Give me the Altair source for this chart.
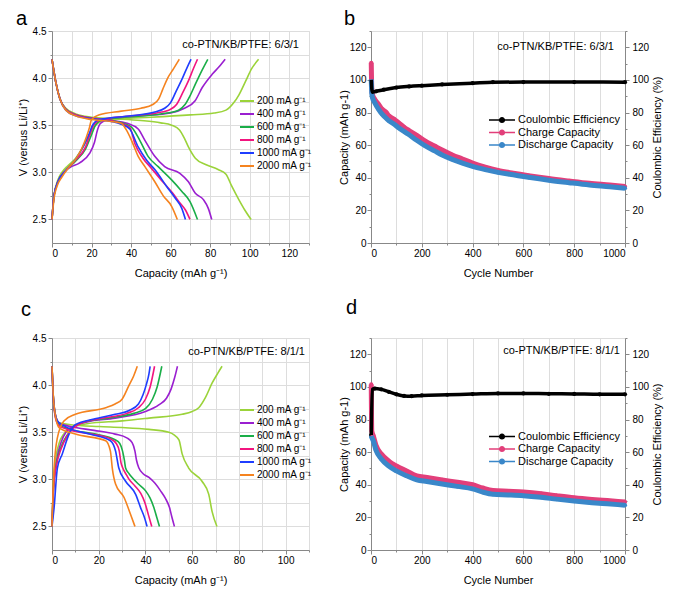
import altair as alt
import pandas as pd

FONT = "Liberation Sans"

# ---------------- rate legend ----------------
RATE_LABELS = ["200 mA g⁻¹", "400 mA g⁻¹", "600 mA g⁻¹", "800 mA g⁻¹", "1000 mA g⁻¹", "2000 mA g⁻¹"]
RATE_COLORS = ["#9BD33A", "#9A1FD0", "#1AAE48", "#F2157F", "#1F3DFF", "#F5831F"]

# ---------------- panel a (6/3/1) : (capacity, voltage) ----------------
a_200_charge = [(0, 2.5), (1, 2.75), (3, 2.92), (5, 3.0), (8, 3.07), (12, 3.15), (16, 3.28), (19, 3.4), (22, 3.5),
                (26, 3.55), (35, 3.57), (50, 3.585), (70, 3.61), (82, 3.63), (88, 3.66), (92, 3.74), (94.5, 3.82),
                (98, 3.97), (101, 4.1), (104.5, 4.2)]
a_200_discharge = [(0, 4.2), (2, 3.95), (4, 3.78), (7, 3.68), (12, 3.62), (20, 3.585), (30, 3.57), (45, 3.55),
                   (55, 3.525), (60.5, 3.5), (64.5, 3.45), (67, 3.36), (69, 3.27), (72.5, 3.15), (78, 3.08),
                   (84, 3.03), (88, 2.98), (91, 2.85), (94.5, 2.71), (97.5, 2.6), (100.7, 2.5)]
a_400_charge = [(0, 2.5), (1, 2.75), (3, 2.9), (6, 3.0), (9, 3.05), (14, 3.1), (19, 3.2), (21.5, 3.32), (23, 3.45),
                (24.5, 3.52), (30, 3.57), (45, 3.6), (60, 3.63), (67, 3.68), (72.4, 3.76), (76, 3.9), (81, 4.04),
                (84.5, 4.12), (87.6, 4.2)]
a_400_discharge = [(0, 4.2), (2, 3.95), (4, 3.78), (7, 3.67), (12, 3.61), (20, 3.57), (30, 3.55), (38, 3.52),
                   (43.6, 3.46), (47, 3.34), (52, 3.17), (57, 3.06), (64.7, 2.99), (69, 2.9), (72.4, 2.78),
                   (76.6, 2.71), (79, 2.62), (80.8, 2.5)]
a_600_charge = [(0, 2.5), (1, 2.75), (3, 2.9), (7, 3.02), (12, 3.12), (17, 3.25), (20, 3.4), (22, 3.5), (26, 3.56),
                (40, 3.59), (55, 3.62), (64, 3.66), (67.3, 3.72), (70, 3.82), (72.4, 3.93), (75.8, 4.08), (78.8, 4.2)]
a_600_discharge = [(0, 4.2), (2, 3.95), (4, 3.78), (7, 3.67), (12, 3.61), (20, 3.575), (30, 3.55), (36, 3.52),
                   (40.2, 3.48), (44.4, 3.34), (48.6, 3.17), (53.7, 3.06), (60.5, 2.92), (65.6, 2.8),
                   (69.8, 2.69), (73.6, 2.5)]
a_800_charge = [(0, 2.5), (1, 2.75), (3, 2.9), (7, 3.02), (12, 3.13), (17, 3.27), (19.5, 3.42), (21, 3.5),
                (25, 3.56), (40, 3.6), (53, 3.63), (60, 3.67), (63, 3.72), (66, 3.84), (69, 3.97), (71.5, 4.1),
                (73.6, 4.2)]
a_800_discharge = [(0, 4.2), (2, 3.95), (4, 3.78), (7, 3.67), (12, 3.61), (20, 3.575), (30, 3.55), (35, 3.52),
                   (39.5, 3.47), (42, 3.3), (46, 3.15), (50, 3.05), (56, 2.9), (61, 2.78), (64.5, 2.68),
                   (67.5, 2.6), (69.8, 2.5)]
a_1000_charge = [(0, 2.5), (1, 2.75), (3, 2.9), (7, 3.02), (12, 3.14), (16, 3.28), (19, 3.42), (20.5, 3.5),
                 (24, 3.56), (40, 3.6), (52, 3.64), (57, 3.68), (60, 3.74), (63, 3.87), (66, 4.0), (68.5, 4.12),
                 (70.3, 4.2)]
a_1000_discharge = [(0, 4.2), (2, 3.95), (4, 3.78), (7, 3.66), (12, 3.6), (20, 3.57), (30, 3.54), (35, 3.51),
                    (39.3, 3.46), (43.6, 3.27), (47.8, 3.13), (52, 3.03), (58, 2.85), (62.2, 2.73), (65.6, 2.62),
                    (67.5, 2.5)]
a_2000_charge = [(0, 2.5), (1, 2.72), (2.5, 2.85), (5, 2.95), (8, 3.04), (12, 3.14), (15, 3.25), (17.5, 3.38),
                 (19, 3.48), (20, 3.56), (24, 3.61), (35, 3.65), (45, 3.68), (51, 3.72), (54, 3.78), (56, 3.88),
                 (58.5, 4.0), (61.5, 4.1), (64.4, 4.2)]
a_2000_discharge = [(0, 4.2), (2, 3.95), (4, 3.78), (7, 3.66), (12, 3.6), (20, 3.56), (30, 3.54), (35, 3.52),
                    (37.6, 3.45), (40.2, 3.34), (43.6, 3.17), (47, 3.06), (52, 2.9), (56.3, 2.75), (60.5, 2.64),
                    (63.4, 2.5)]

# ---------------- panel c (8/1/1) : (capacity, voltage) ----------------
c_200_charge = [(0, 2.5), (0.5, 2.9), (1.5, 3.2), (3, 3.38), (5, 3.48), (8, 3.55), (15, 3.59), (30, 3.62),
                (41.5, 3.65), (55.7, 3.69), (60, 3.72), (62.8, 3.76), (65.7, 3.87), (68.5, 4.02), (70.8, 4.12),
                (72.8, 4.2)]
c_200_discharge = [(0, 4.2), (0.5, 3.9), (1.5, 3.68), (3, 3.6), (8, 3.58), (20, 3.56), (30, 3.55), (41.5, 3.53),
                   (50, 3.5), (54.3, 3.42), (55.7, 3.27), (58.5, 3.12), (64.2, 2.98), (67.1, 2.84), (68.5, 2.66),
                   (70.6, 2.5)]
c_400_charge = [(0, 2.5), (0.7, 2.9), (2, 3.2), (4, 3.4), (6, 3.5), (9, 3.56), (15, 3.61), (27, 3.65), (40, 3.72),
                (45.7, 3.79), (49, 3.86), (51, 3.96), (52.5, 4.08), (53.7, 4.2)]
c_400_discharge = [(0, 4.2), (0.5, 3.9), (1.5, 3.68), (3, 3.6), (8, 3.56), (18, 3.52), (27, 3.48), (32, 3.44),
                   (34.3, 3.39), (35.5, 3.3), (36.2, 3.2), (37.2, 3.12), (39, 3.06), (41.5, 3.02), (44, 2.96),
                   (46.4, 2.88), (48.5, 2.8), (50.3, 2.7), (51.3, 2.6), (52.4, 2.5)]
c_600_charge = [(0, 2.5), (0.6, 2.9), (2, 3.18), (4, 3.35), (6.5, 3.47), (9, 3.55), (14, 3.61), (24, 3.65),
                (35, 3.7), (40, 3.75), (43, 3.85), (45, 3.98), (47, 4.2)]
c_600_discharge = [(0, 4.2), (0.5, 3.9), (1.5, 3.66), (3, 3.58), (8, 3.53), (18.7, 3.48), (27, 3.42), (29, 3.38),
                   (30.2, 3.3), (31, 3.2), (31.5, 3.12), (33, 3.06), (34.3, 3.02), (37, 2.95), (40, 2.88),
                   (42, 2.8), (43.6, 2.7), (44.8, 2.6), (46, 2.5)]
c_800_charge = [(0, 2.5), (0.6, 2.9), (2, 3.16), (4, 3.33), (6.5, 3.46), (9, 3.54), (13, 3.6), (22, 3.65),
                (32, 3.7), (37, 3.76), (40, 3.85), (42, 3.98), (43.9, 4.2)]
c_800_discharge = [(0, 4.2), (0.5, 3.9), (1.5, 3.65), (3, 3.57), (8, 3.52), (17, 3.48), (25, 3.43), (27.5, 3.38),
                   (28.8, 3.3), (29.5, 3.18), (30.3, 3.12), (31.8, 3.05), (33, 3.0), (35.5, 2.93), (38, 2.85),
                   (39.8, 2.75), (41.3, 2.62), (42.7, 2.5)]
c_1000_charge = [(0, 2.5), (0.9, 2.7), (2.3, 3.12), (4.4, 3.27), (7.3, 3.48), (10, 3.58), (18, 3.64), (27, 3.69),
                 (33, 3.73), (37, 3.8), (39, 3.9), (40.3, 4.0), (41.5, 4.12), (42, 4.2)]
c_1000_discharge = [(0, 4.2), (0.6, 3.85), (2.3, 3.62), (5.8, 3.56), (16, 3.48), (25, 3.41), (27.2, 3.3),
                    (28.6, 3.12), (31.5, 2.98), (35.8, 2.84), (37.9, 2.7), (39.5, 2.6), (40.7, 2.5)]
c_2000_charge = [(0, 2.5), (0.9, 3.12), (2.3, 3.44), (5.1, 3.62), (10, 3.69), (23, 3.76), (27, 3.8), (30, 3.85),
                 (33, 4.0), (35, 4.1), (36.5, 4.2)]
c_2000_discharge = [(0, 4.2), (0.8, 3.8), (3, 3.55), (10, 3.48), (23, 3.41), (25, 3.3), (25.8, 3.12),
                    (27.2, 2.95), (30.8, 2.81), (33.6, 2.63), (35.5, 2.5)]

# ---------------- panel b (6/3/1) cycling ----------------
SERIES = ["Coulombic Efficiency", "Charge Capacity", "Discharge Capacity"]
SERIES_COLORS = ["#000000", "#E23F7A", "#3A87C9"]

b_cycles = [1, 3, 6, 15, 30, 44, 60, 70, 90, 110, 130, 149, 180, 214, 250, 280, 320, 360, 400, 450, 500, 560,
            620, 700, 780, 860, 940, 1000]
b_charge = [110.5, 95, 91, 88, 85, 82, 80, 78, 76, 73.5, 71, 69, 66, 62.5, 59.5, 57, 54, 51.5, 49, 46.5, 44.5,
            42.8, 41.3, 39.5, 38, 36.6, 35.5, 34.6]
b_discharge = [100.3, 92, 89, 86, 82, 79, 76.5, 75, 73, 70.5, 68.5, 66.5, 63, 59.5, 56.5, 54, 51.3, 49, 47, 45,
               43.3, 41.8, 40.3, 38.5, 37, 35.6, 34.5, 33.6]
b_ce_cycles = [1, 5, 20, 50, 100, 150, 200, 280, 400, 480, 600, 800, 1000]
b_ce = [100, 92.5, 93, 94, 95.3, 96, 96.5, 97.2, 98, 98.6, 98.7, 98.7, 98.6]

# ---------------- panel d (8/1/1) cycling ----------------
d_cycles = [1, 3, 9, 20, 40, 70, 100, 140, 180, 220, 280, 340, 400, 440, 480, 540, 600, 670, 730, 800, 870, 930,
            1000]
d_charge = [101.5, 73, 70, 64, 59, 54.5, 51.5, 48.5, 45.5, 44.5, 43, 41.5, 40, 38, 36.5, 36, 35.5, 34.5, 33.3, 32,
            31, 30.3, 29.5]
d_discharge = [70, 69, 67, 61, 56, 51.5, 48.5, 45.5, 43, 42, 40.5, 39, 37.5, 35.5, 34.2, 33.8, 33.3, 32.3, 31.2,
               30, 29, 28.3, 27.5]
d_ce_cycles = [1, 5, 15, 40, 70, 100, 130, 160, 200, 300, 400, 500, 600, 700, 800, 900, 1000]
d_ce = [70.5, 98.5, 99, 98.5, 97, 95.5, 94.5, 94.3, 94.8, 95.2, 95.6, 96, 96, 95.8, 95.7, 95.5, 95.5]

ANNOT_A = "co-PTN/KB/PTFE: 6/3/1"
ANNOT_C = "co-PTN/KB/PTFE: 8/1/1"

# ---------------- layout constants ----------------
W_L = 257
W_R = 254
H = 212
LABEL_SIZE = 11.5

SYMBOL_PATH = ("M-1,-0.06L1,-0.06L1,0.06L-1,0.06Z "
               "M0.24,0A0.24,0.24,0,1,1,-0.24,0A0.24,0.24,0,1,1,0.24,0Z")


def curves_df(curves):
    rows = []
    for label, branch, pts in curves:
        for i, (c, v) in enumerate(pts):
            rows.append({"rate": label, "branch": branch, "cap": c, "v": v, "idx": i})
    return pd.DataFrame(rows)


def text_layer(txt, x, y, size, align="left", baseline="alphabetic"):
    return alt.Chart(pd.DataFrame({"t": [txt]})).mark_text(
        font=FONT, fontSize=size, align=align, baseline=baseline, color="black"
    ).encode(text="t:N", x=alt.value(x), y=alt.value(y))


def voltage_panel(curves, xmax, annot, annot_dx, letter, letter_dx, letter_dy, legend_y):
    df = curves_df(curves)
    xvals = list(range(0, xmax + 1, 10))
    x_axis = alt.Axis(
        title="Capacity (mAh g⁻¹)", values=xvals, labelOverlap=False,
        labelExpr="datum.value % 20 == 0 ? format(datum.value, 'd') : ''",
        tickSize={"condition": {"test": "datum.value % 20 != 0", "value": 2}, "value": 4},
        labelPadding=1, titlePadding=9, titleFontWeight=400,
    )
    yvals = [2.5 + 0.25 * i for i in range(9)]
    y_axis = alt.Axis(
        title="V (versus Li/Li⁺)", values=yvals, labelOverlap=False,
        labelExpr="abs(datum.value*2 - round(datum.value*2)) < 0.001 ? format(datum.value, '.1f') : ''",
        tickSize={"condition": {"test": "abs(datum.value*2 - round(datum.value*2)) > 0.001", "value": 2},
                  "value": 4},
        labelPadding=2, titlePadding=4, titleFontWeight=400,
    )
    lines = alt.Chart(df).mark_line(interpolate="monotone", strokeWidth=1.6).encode(
        x=alt.X("cap:Q", scale=alt.Scale(domain=[0, xmax], nice=False), axis=x_axis),
        y=alt.Y("v:Q", scale=alt.Scale(domain=[2.25, 4.5], nice=False, zero=False), axis=y_axis),
        color=alt.Color(
            "rate:N", scale=alt.Scale(domain=RATE_LABELS, range=RATE_COLORS),
            legend=alt.Legend(
                title=None, orient="none", legendX=187, legendY=legend_y, symbolType="stroke",
                symbolSize=196, symbolStrokeWidth=2, labelFont=FONT, labelFontSize=10, labelColor="black",
                labelOffset=2, rowPadding=-3, padding=0,
            ),
        ),
        detail="branch:N",
        order="idx:Q",
    )
    return alt.layer(
        lines,
        text_layer(annot, W_L - annot_dx, 14, 11, align="right", baseline="middle"),
        text_layer(letter, letter_dx, letter_dy, 20),
    ).properties(width=W_L, height=H)


def cycle_panel(cycles, charge, discharge, ce_cycles, ce, annot, annot_dx, annot_dy, letter, letter_dx,
                letter_dy, legend_y):
    rows = []
    for c, v in zip(cycles, charge):
        rows.append({"series": SERIES[1], "cycle": c, "value": v})
    for c, v in zip(cycles, discharge):
        rows.append({"series": SERIES[2], "cycle": c, "value": v})
    for c, v in zip(ce_cycles, ce):
        rows.append({"series": SERIES[0], "cycle": c, "value": v})
    df = pd.DataFrame(rows)

    xs = alt.Scale(domain=[0, 1000], nice=False)
    ys = alt.Scale(domain=[0, 130], nice=False)
    leg = alt.Legend(
        title=None, orient="none", legendX=118, legendY=legend_y, symbolType=SYMBOL_PATH,
        symbolSize=676, symbolStrokeWidth=0, labelFont=FONT, labelFontSize=11, labelColor="black",
        labelOffset=3, rowPadding=0.5, clipHeight=11, padding=0, symbolOpacity=1,
    )
    x_axis = alt.Axis(
        title="Cycle Number", values=list(range(0, 1001, 100)), labelOverlap=False,
        labelExpr="datum.value % 200 == 0 ? format(datum.value, 'd') : ''",
        tickSize={"condition": {"test": "datum.value % 200 != 0", "value": 2}, "value": 4},
        labelPadding=1, titlePadding=9, titleFontWeight=400,
    )
    yv = list(range(0, 131, 10))
    ytick = {"condition": {"test": "datum.value % 20 != 0", "value": 2}, "value": 4}
    ylab = "datum.value % 20 == 0 ? format(datum.value, 'd') : ''"
    left_axis = alt.Axis(title="Capacity (mAh g-1)", values=yv, labelExpr=ylab, tickSize=ytick,
                         labelOverlap=False, labelPadding=1, titlePadding=0, titleFontWeight=400)
    right_axis = alt.Axis(title="Coulombic Efficiency (%)", values=yv, labelExpr=ylab, tickSize=ytick,
                          labelOverlap=False, labelPadding=3, titlePadding=3, orient="right",
                          titleAngle=270, titleBaseline="top", titleFontWeight=400)

    base = alt.Chart(df)
    pts = base.mark_point(filled=True, size=18, opacity=1, strokeWidth=0).encode(
        x=alt.X("cycle:Q", scale=xs, axis=x_axis),
        y=alt.Y("value:Q", scale=ys, axis=None),
        fill=alt.Fill("series:N", scale=alt.Scale(domain=SERIES, range=SERIES_COLORS), legend=leg),
    )
    cap_line = base.transform_filter(f"datum.series != '{SERIES[0]}'").mark_line(
        strokeWidth=5, interpolate="monotone").encode(
        x=alt.X("cycle:Q", scale=xs, axis=x_axis),
        y=alt.Y("value:Q", scale=ys, axis=left_axis),
        stroke=alt.Stroke("series:N", scale=alt.Scale(domain=SERIES, range=SERIES_COLORS), legend=None),
    )
    ce_line = base.transform_filter(f"datum.series == '{SERIES[0]}'").mark_line(
        strokeWidth=3.5, interpolate="monotone").encode(
        x=alt.X("cycle:Q", scale=xs, axis=x_axis),
        y=alt.Y("value:Q", scale=ys, axis=right_axis),
        stroke=alt.Stroke("series:N", scale=alt.Scale(domain=SERIES, range=SERIES_COLORS), legend=None),
    )
    return alt.layer(
        pts, cap_line, ce_line,
        text_layer(annot, W_R - annot_dx, annot_dy, 11, align="right", baseline="middle"),
        text_layer(letter, letter_dx, letter_dy, 20),
    ).resolve_axis(y="independent").properties(width=W_R, height=H)


curves_a = []
curves_c = []
for lab, ach, adc, cch, cdc in zip(
        RATE_LABELS,
        [a_200_charge, a_400_charge, a_600_charge, a_800_charge, a_1000_charge, a_2000_charge],
        [a_200_discharge, a_400_discharge, a_600_discharge, a_800_discharge, a_1000_discharge, a_2000_discharge],
        [c_200_charge, c_400_charge, c_600_charge, c_800_charge, c_1000_charge, c_2000_charge],
        [c_200_discharge, c_400_discharge, c_600_discharge, c_800_discharge, c_1000_discharge, c_2000_discharge]):
    curves_a += [(lab, "charge", ach), (lab, "discharge", adc)]
    curves_c += [(lab, "charge", cch), (lab, "discharge", cdc)]

panel_a = voltage_panel(curves_a, 130, ANNOT_A, 10, "a", -36, -6, 62)
panel_c = voltage_panel(curves_c, 110, ANNOT_C, 4, "c", -31, -22, 64)
panel_b = cycle_panel(b_cycles, b_charge, b_discharge, b_ce_cycles, b_ce, ANNOT_A, 11, 16, "b", -27, -6, 83.5)
panel_d = cycle_panel(d_cycles, d_charge, d_discharge, d_ce_cycles, d_ce, ANNOT_C, 5, 13, "d", -25, -24, 93)

indep = dict(color="independent", fill="independent", stroke="independent")
top = alt.hconcat(panel_a, panel_b, spacing=24).resolve_scale(**indep)
bottom = alt.hconcat(panel_c, panel_d, spacing=24).resolve_scale(**indep)

chart = alt.vconcat(top, bottom, spacing=18).resolve_scale(**indep).properties(
    padding={"left": 7, "top": 0, "right": 0, "bottom": 0}
).configure_view(stroke="black", strokeWidth=1).configure_axis(
    grid=False, domainColor="black", tickColor="black", labelColor="black", titleColor="black",
    labelFont=FONT, titleFont=FONT, labelFontSize=LABEL_SIZE, titleFontSize=14, titleFontWeight=400,
    domainWidth=1, tickWidth=1,
).configure(background="white")

chart.save("out.html", embed_options={"renderer": "svg", "actions": False})
